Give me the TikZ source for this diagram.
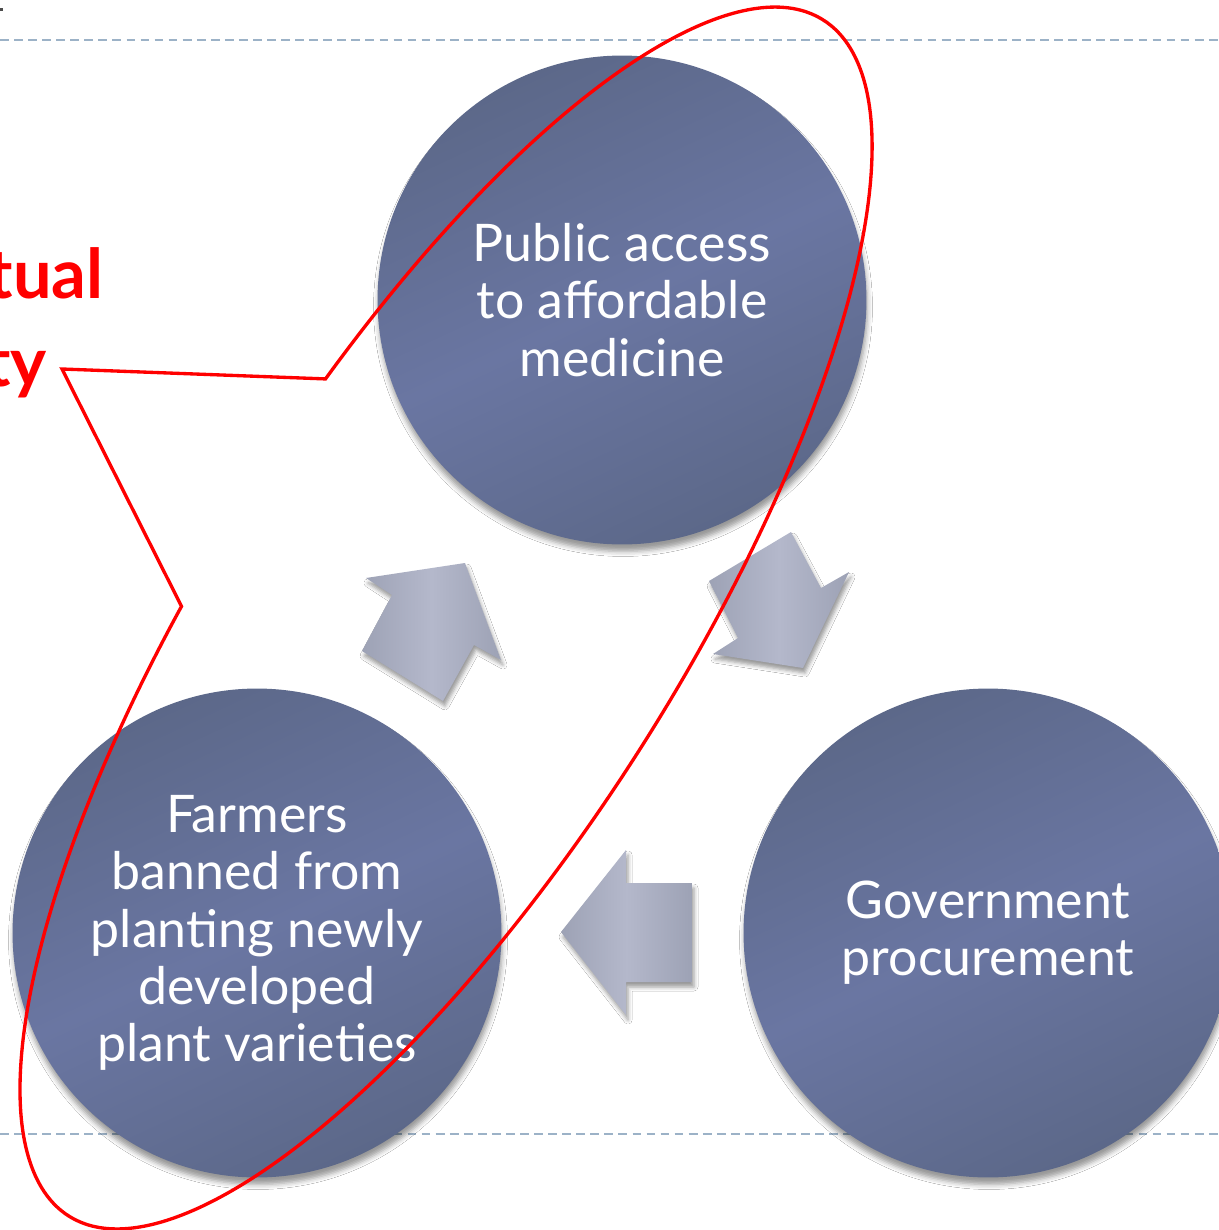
\documentclass[tikz,border=0pt]{standalone}
\usepackage{fontspec}
\setmainfont{Lato}
\usetikzlibrary{shadows,shadows.blur}
\definecolor{cdark}{HTML}{5C6889}
\definecolor{clight}{HTML}{6A76A2}
\definecolor{adark}{HTML}{9DA2B5}
\definecolor{alight}{HTML}{B4B8CB}
\definecolor{dashc}{HTML}{9CB2C7}
\definecolor{callred}{HTML}{FF0000}
\begin{document}
\begin{tikzpicture}[x=0.02cm,y=-0.02cm,
  bubble/.style={circle, minimum size=9.78cm, inner sep=0pt,
    left color=cdark, right color=cdark, middle color=clight, shading angle=25,
    text=white, align=center, font=\fontsize{29.5}{32.6}\selectfont,
    blur shadow={shadow xshift=0.02cm, shadow yshift=-0.14cm, shadow blur radius=0.1cm, shadow opacity=40}},
  cyclearrow/.style={left color=adark, right color=adark, middle color=alight,
    blur shadow={shadow xshift=0.04cm, shadow yshift=-0.1cm, shadow blur radius=0.08cm, shadow opacity=40}},
  dashline/.style={draw=dashc, line width=1.1pt, dash pattern=on 5pt off 3pt},
  redtxt/.style={text=callred, font=\fontsize{39}{44}\selectfont\bfseries, inner sep=0pt},
  callout/.style={draw=callred, line width=1.9pt, line join=miter}
]
\useasboundingbox (0,0) rectangle (1219,1230);
\clip (0,0) rectangle (1219,1230);
\fill[white] (0,0) rectangle (1219,1230);
% dashed rules
\draw[dashline] (0,40) -- (1219,40);
\draw[dashline] (0,1134) -- (1219,1134);
\fill[black!70] (0,8) rectangle (3,11);
% cycle arrows
\path[cyclearrow] (366,578) -- (465,563) -- (501,660) -- (474,645) -- (443,701) -- (362,651) -- (392,595) -- cycle;
\path[cyclearrow] (709,581) -- (791,532) -- (821,588) -- (849,572) -- (803,668) -- (713,654) -- (738,638) -- cycle;
\path[cyclearrow] (561,932) -- (626,850) -- (626,883) -- (692,883) -- (692,982) -- (626,982) -- (626,1015) -- cycle;
% circles
\node[bubble] (pub) at (622,300) {Public access\\to affordable\\medicine};
\node[bubble] (farm) at (257,933) {Farmers\\banned from\\planting newly\\developed\\plant varieties};
\node[bubble] (gov) at (988,933) {Government\\procurement};
% red text (cut off at left edge, as in the reference)
\node[redtxt, anchor=base east] (ip1) at (104,298) {Intellectual};
\node[redtxt, anchor=base east] (ip2) at (47,386) {Property};
% red ellipse callout
\coordinate (tip) at (62,369);
\begin{scope}[shift={(446,618)}, rotate=57.75]
  \draw[callout] (-78.75:707 and 234) arc[start angle=-78.75, end angle=259.3, x radius=707, y radius=234] -- (tip) -- cycle;
\end{scope}
\end{tikzpicture}
\end{document}
